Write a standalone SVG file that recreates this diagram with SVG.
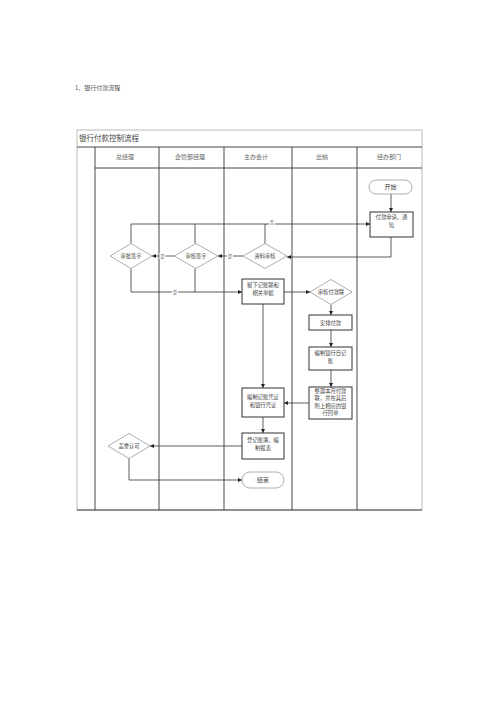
<svg xmlns="http://www.w3.org/2000/svg" width="500" height="707" viewBox="0 0 500 707">
<style>
text{font-family:"Noto Sans CJK SC","Noto Sans",sans-serif;fill:#444}
.lane{stroke:#333;stroke-width:0.9;fill:none}
.box{fill:#fff;stroke:#333;stroke-width:1}
.dia{fill:#fff;stroke:#999;stroke-width:0.8}
.term{fill:#fff;stroke:#999;stroke-width:0.8}
.t{font-size:5.3px;text-anchor:middle}
.h{font-size:6px;text-anchor:middle;fill:#666}
.c{stroke:#333;stroke-width:0.8;fill:none}
.lbl{font-size:4.5px;text-anchor:middle;fill:#666}
</style>
<defs>
<marker id="a" viewBox="0 0 6 6" refX="6" refY="3" markerWidth="4" markerHeight="4" orient="auto" markerUnits="userSpaceOnUse">
<path d="M0,0L6,3L0,6z" fill="#222"/>
</marker>
</defs>
<rect width="500" height="707" fill="#fff"/>
<text x="75" y="90" style="font-size:6px;fill:#555">1、银行付款流程</text>
<g id="frame">
<rect x="77" y="130" width="345" height="380" fill="none" stroke="#aaa" stroke-width="0.8"/>
<line class="lane" x1="77" y1="147" x2="422" y2="147"/>
<line class="lane" x1="95" y1="168" x2="422" y2="168"/>
<line class="lane" x1="95" y1="147" x2="95" y2="510"/>
<line class="lane" x1="159" y1="147" x2="159" y2="510"/>
<line class="lane" x1="224" y1="147" x2="224" y2="510"/>
<line class="lane" x1="292" y1="147" x2="292" y2="510"/>
<line class="lane" x1="357" y1="147" x2="357" y2="510"/>
<line class="lane" x1="77" y1="510" x2="422" y2="510"/>
<text x="79" y="141" style="font-size:7.5px;fill:#444">银行付款控制流程</text>
<text class="h" x="125" y="159">总经理</text>
<text class="h" x="190" y="159">企管部经理</text>
<text class="h" x="256" y="159">主办会计</text>
<text class="h" x="322" y="159">出纳</text>
<text class="h" x="389" y="159">经办部门</text>
</g>
<g id="connectors">
<path class="c" d="M391,194V212" marker-end="url(#a)"/>
<path class="c" d="M391,237V257H287" marker-end="url(#a)"/>
<path class="c" d="M131,243.5V224H370" marker-end="url(#a)"/>
<path class="c" d="M195,243.5V224"/>
<path class="c" d="M265,243.5V224"/>
<path class="c" d="M243,256H218" marker-end="url(#a)"/>
<path class="c" d="M174,256H152" marker-end="url(#a)"/>
<path class="c" d="M131,268.5V292H242" marker-end="url(#a)"/>
<path class="c" d="M195,268.5V292"/>
<path class="c" d="M284,292H310" marker-end="url(#a)"/>
<path class="c" d="M263,304V388" marker-end="url(#a)"/>
<path class="c" d="M331,304.5V315" marker-end="url(#a)"/>
<path class="c" d="M331,330V347" marker-end="url(#a)"/>
<path class="c" d="M331,370V387" marker-end="url(#a)"/>
<path class="c" d="M309,403H284" marker-end="url(#a)"/>
<path class="c" d="M263,417V433" marker-end="url(#a)"/>
<path class="c" d="M242,446H150" marker-end="url(#a)"/>
<path class="c" d="M129,458.5V480H242" marker-end="url(#a)"/>
<rect x="269" y="219.5" width="6" height="6" fill="#fff"/>
<text class="lbl" x="272" y="224">否</text>
<rect x="227" y="253" width="6" height="6" fill="#fff"/>
<text class="lbl" x="230" y="257.5">是</text>
<rect x="159.5" y="253" width="6" height="6" fill="#fff"/>
<text class="lbl" x="162.5" y="257.5">是</text>
<rect x="172" y="289" width="6" height="6" fill="#fff"/>
<text class="lbl" x="175" y="293.5">是</text>
</g>
<g id="start">
<rect class="term" x="369" y="180" width="43" height="14" rx="7"/>
<text class="t" x="390.5" y="189" style="font-size:6px">开始</text>
</g>
<g id="apply">
<rect class="box" x="370" y="212" width="43" height="25"/>
<text class="t" x="391.5" y="219">付款申请，通</text>
<text class="t" x="391.5" y="226.5">知</text>
</g>
<g id="d_zl">
<polygon class="dia" points="265,243.5 287,256 265,268.5 243,256"/>
<text class="t" x="265" y="258">资料审核</text>
</g>
<g id="d_sh">
<polygon class="dia" points="196,243.5 218,256 196,268.5 174,256"/>
<text class="t" x="196" y="258">审核签字</text>
</g>
<g id="d_sp">
<polygon class="dia" points="131,243.5 152,256 131,268.5 110,256"/>
<text class="t" x="131" y="258">审批签字</text>
</g>
<g id="keep">
<rect class="box" x="242" y="279" width="42" height="25"/>
<text class="t" x="263" y="287">留下记账联和</text>
<text class="t" x="263" y="295">相关单据</text>
</g>
<g id="d_fk">
<polygon class="dia" points="331,279.5 352,292 331,304.5 310,292"/>
<text class="t" x="331" y="294">审核付款联</text>
</g>
<g id="arrange">
<rect class="box" x="309" y="315" width="43" height="15"/>
<text class="t" x="330.5" y="324.5">安排付款</text>
</g>
<g id="journal">
<rect class="box" x="309" y="347" width="43" height="23"/>
<text class="t" x="330.5" y="355">编制银行日记</text>
<text class="t" x="330.5" y="363">账</text>
</g>
<g id="sort">
<rect class="box" x="309" y="387" width="43" height="32"/>
<text class="t" x="330.5" y="392.5">整理本月付款</text>
<text class="t" x="330.5" y="400">联，并在其后</text>
<text class="t" x="330.5" y="407.5">附上相应的银</text>
<text class="t" x="330.5" y="415">行回单</text>
</g>
<g id="voucher">
<rect class="box" x="242" y="388" width="42" height="29"/>
<text class="t" x="263" y="399">编制记账凭证</text>
<text class="t" x="263" y="407">和银行凭证</text>
</g>
<g id="ledger">
<rect class="box" x="242" y="433" width="42" height="26"/>
<text class="t" x="263" y="442">登记账簿，编</text>
<text class="t" x="263" y="450">制报表</text>
</g>
<g id="d_gz">
<polygon class="dia" points="129,433.5 150,446 129,458.5 108,446"/>
<text class="t" x="129" y="448">盖章认可</text>
</g>
<g id="end">
<rect class="term" x="242" y="472" width="42" height="16" rx="8"/>
<text class="t" x="263" y="482" style="font-size:6px">结束</text>
</g>
</svg>
